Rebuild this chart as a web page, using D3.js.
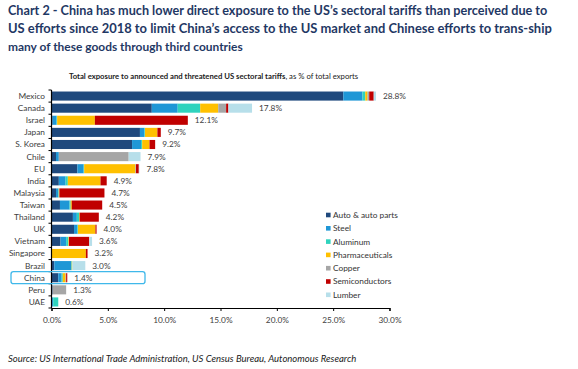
<!DOCTYPE html>
<html><head><meta charset="utf-8">
<script src="https://cdn.jsdelivr.net/npm/d3@7"></script>
<style>html,body{margin:0;padding:0;background:#fff;}svg{display:block;font-family:Lato,"Open Sans",sans-serif;}</style>
</head><body>
<svg id="chart" width="578" height="369"></svg>
<script>
const categories = ["Mexico","Canada","Israel","Japan","S. Korea","Chile","EU","India","Malaysia","Taiwan","Thailand","UK","Vietnam","Singapore","Brazil","China","Peru","UAE"];
const sectors = ["Auto & auto parts","Steel","Aluminum","Pharmaceuticals","Copper","Semiconductors","Lumber"];
const colors = ["#1f497d","#1f97d6","#2fd3bd","#ffc000","#a6a6a6","#c00000","#b7dfea"];
const auto      = [25.9, 8.9, 0.1, 7.85, 7.15, 0.4, 2.3, 0.65, 0.4, 0.75, 1.9, 2.0, 0.8, 0, 0.25, 0.6, 0.1, 0.05];
const steel     = [1.7, 2.3, 0.35, 0.4, 0.8, 0.25, 0.55, 0.6, 0.2, 0.85, 0.35, 0.3, 0.5, 0, 1.5, 0.3, 0, 0.1];
const aluminum  = [0.25, 2.0, 0.05, 0.05, 0.1, 0, 0.05, 0.2, 0.05, 0.1, 0.2, 0.05, 0.2, 0, 0.05, 0.1, 0, 0.45];
const pharma    = [0.2, 1.6, 3.35, 1.1, 0.65, 0, 4.55, 2.9, 0.05, 0.1, 0.05, 1.55, 0.05, 3.05, 0.05, 0.25, 0, 0];
const copper    = [0.15, 0.7, 0, 0, 0, 6.2, 0.05, 0, 0, 0, 0, 0, 0, 0, 0, 0.05, 1.2, 0];
const semis     = [0.4, 0.2, 8.25, 0.3, 0.5, 0, 0.25, 0.55, 4.0, 2.7, 1.7, 0.1, 1.8, 0.15, 0, 0.1, 0, 0];
const lumber    = [0.2, 2.1, 0, 0, 0, 1.05, 0.05, 0, 0, 0, 0, 0, 0.25, 0, 1.15, 0, 0, 0];
const totals    = [28.8, 17.8, 12.1, 9.7, 9.2, 7.9, 7.8, 4.9, 4.7, 4.5, 4.2, 4.0, 3.6, 3.2, 3.0, 1.4, 1.3, 0.6];
const xTicks    = [0, 5, 10, 15, 20, 25, 30];
const titleLines = [
  "Chart 2 - China has much lower direct exposure to the US\u2019s sectoral tariffs than perceived due to",
  "US efforts since 2018 to limit China\u2019s access to the US market and Chinese efforts to trans-ship",
  "many of these goods through third countries"];
const subtitleBold = "Total exposure to announced and threatened US sectoral tariffs";
const subtitleRest = ", as % of total exports";
const sourceText = "Source: US International Trade Administration, US Census Bureau, Autonomous Research";
const highlight = "China";

const seriesArrays = [auto, steel, aluminum, pharma, copper, semis, lumber];
const rows = categories.map((c,i)=>{const o={cat:c}; sectors.forEach((s,j)=>o[s]=seriesArrays[j][i]); return o;});
const stacked = d3.stack().keys(sectors)(rows);

const svg = d3.select("#chart");
const x = d3.scaleLinear().domain([0,30]).range([51.5, 389.5]);
const y = d3.scaleBand().domain(categories).range([90, 308]).paddingInner(0.25).paddingOuter(0.125);

function fit(sel, w){ const n = sel.node(); const cur = parseFloat(sel.attr("font-size")); const l = n.getComputedTextLength(); sel.attr("font-size", cur*w/l); }

// Title
const tl = [[14.5,540],[32.5,544],[50.5,235]];
titleLines.forEach((t,i)=>{
  const s = svg.append("text").attr("x",8).attr("y",tl[i][0]).attr("font-size",14).attr("font-weight","bold").attr("fill","#1f3864").text(t);
  fit(s, tl[i][1]);
});
// Subtitle
const st = svg.append("text").attr("x",69).attr("y",78.5).attr("font-size",8.5).attr("fill","#222");
st.append("tspan").attr("font-weight","bold").text(subtitleBold);
st.append("tspan").text(subtitleRest);
fit(st, 290);

// Bars
svg.append("g").selectAll("g").data(stacked).join("g").attr("fill",(d,i)=>colors[i])
  .selectAll("rect").data(d=>d).join("rect")
  .attr("x",d=>x(d[0])).attr("width",d=>Math.max(0,x(d[1])-x(d[0])))
  .attr("y",d=>y(d.data.cat)).attr("height",y.bandwidth());

// Value labels
svg.append("g").selectAll("text").data(categories).join("text")
  .attr("x",(c,i)=>x(totals[i])+7).attr("y",c=>y(c)+y.bandwidth()/2).attr("dy","0.35em")
  .attr("font-size",8.3).attr("fill","#404040").text((c,i)=>totals[i].toFixed(1)+"%");

// Y axis
const yAxis = svg.append("g").attr("transform",`translate(${x(0)},0)`);
yAxis.append("line").attr("y1",y.range()[0]).attr("y2",y.range()[1]+0.5).attr("stroke","#000").attr("stroke-width",1.2);
const boundaries = d3.range(categories.length+1).map(i=> y.range()[0] + i*y.step());
yAxis.selectAll("line.t").data(boundaries).join("line").attr("class","t").attr("x1",-3).attr("x2",0).attr("y1",d=>d).attr("y2",d=>d).attr("stroke","#000");
svg.append("g").selectAll("text").data(categories).join("text")
  .attr("x",45).attr("y",c=>y(c)+y.bandwidth()/2).attr("dy","0.35em").attr("text-anchor","end")
  .attr("font-size",8.3).attr("fill","#404040").text(c=>c);

// X axis
const xAxis = svg.append("g").attr("transform",`translate(0,${y.range()[1]})`)
  .call(d3.axisBottom(x).tickValues(xTicks).tickSize(3).tickPadding(6).tickFormat(d=>d.toFixed(1)+"%"));
xAxis.select(".domain").attr("stroke","#000").attr("stroke-width",1.2);
xAxis.selectAll(".tick line").attr("stroke","#000");
xAxis.selectAll("text").attr("font-size",8.3).attr("fill","#404040").attr("font-family","Lato,'Open Sans',sans-serif");

// Highlight box
const hy = y(highlight)+y.bandwidth()/2;
svg.append("rect").attr("x",11).attr("y",hy-6).attr("width",134).attr("height",12).attr("rx",2.5)
  .attr("fill","none").attr("stroke","#3fb8ea").attr("stroke-width",1.3);

// Legend
const lg = svg.append("g").attr("transform","translate(326,215)");
const li = lg.selectAll("g").data(sectors).join("g").attr("transform",(d,i)=>`translate(0,${i*13.3})`);
li.append("rect").attr("x",0).attr("y",-2.3).attr("width",4.6).attr("height",4.6).attr("fill",(d,i)=>colors[i]);
li.append("text").attr("x",7).attr("y",0).attr("dy","0.35em").attr("font-size",8.3).attr("fill","#333").text(d=>d);

// Source
const src = svg.append("text").attr("x",8).attr("y",362).attr("font-size",9).attr("font-style","italic").attr("fill","#222").text(sourceText);
fit(src, 349);
</script>
</body></html>
